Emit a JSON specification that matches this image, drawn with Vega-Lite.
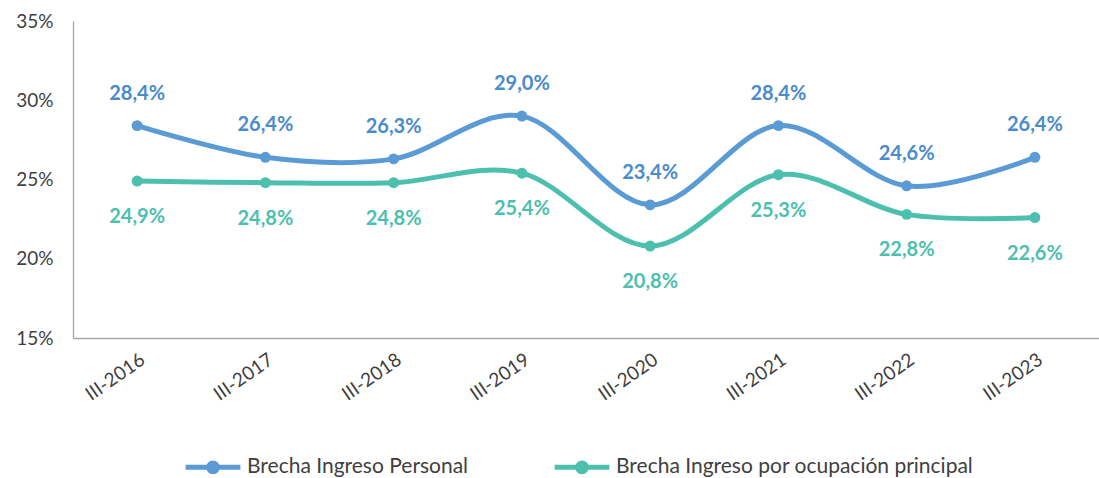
{
  "$schema": "https://vega.github.io/schema/vega-lite/v6.json",
  "width": 1026,
  "height": 317,
  "autosize": {"type": "none"},
  "padding": {"left": 73, "top": 21, "right": 0, "bottom": 140},
  "config": {
    "view": {"stroke": null},
    "font": "Lato",
    "locale": {"number": {"decimal": ",", "thousands": ".", "grouping": [3], "currency": ["", ""]}}
  },
  "data": {
    "values": [
      {"periodo": "III-2016", "serie": "Brecha Ingreso Personal", "valor": 0.284},
      {"periodo": "III-2017", "serie": "Brecha Ingreso Personal", "valor": 0.264},
      {"periodo": "III-2018", "serie": "Brecha Ingreso Personal", "valor": 0.263},
      {"periodo": "III-2019", "serie": "Brecha Ingreso Personal", "valor": 0.290},
      {"periodo": "III-2020", "serie": "Brecha Ingreso Personal", "valor": 0.234},
      {"periodo": "III-2021", "serie": "Brecha Ingreso Personal", "valor": 0.284},
      {"periodo": "III-2022", "serie": "Brecha Ingreso Personal", "valor": 0.246},
      {"periodo": "III-2023", "serie": "Brecha Ingreso Personal", "valor": 0.264},
      {"periodo": "III-2016", "serie": "Brecha Ingreso por ocupación principal", "valor": 0.249},
      {"periodo": "III-2017", "serie": "Brecha Ingreso por ocupación principal", "valor": 0.248},
      {"periodo": "III-2018", "serie": "Brecha Ingreso por ocupación principal", "valor": 0.248},
      {"periodo": "III-2019", "serie": "Brecha Ingreso por ocupación principal", "valor": 0.254},
      {"periodo": "III-2020", "serie": "Brecha Ingreso por ocupación principal", "valor": 0.208},
      {"periodo": "III-2021", "serie": "Brecha Ingreso por ocupación principal", "valor": 0.253},
      {"periodo": "III-2022", "serie": "Brecha Ingreso por ocupación principal", "valor": 0.228},
      {"periodo": "III-2023", "serie": "Brecha Ingreso por ocupación principal", "valor": 0.226}
    ]
  },
  "encoding": {
    "x": {
      "field": "periodo", "type": "ordinal",
      "scale": {"type": "point", "padding": 0.5},
      "axis": {
        "title": null, "labelAngle": -35, "labelFontSize": 19, "labelColor": "#404040",
        "domainColor": "#A6A6A6", "domainWidth": 1.3, "ticks": false, "labelPadding": 12,
        "labelFont": "Lato"
      }
    },
    "y": {
      "field": "valor", "type": "quantitative",
      "scale": {"domain": [0.15, 0.35], "nice": false},
      "axis": {
        "title": null, "format": ".0%", "values": [0.15, 0.2, 0.25, 0.3, 0.35],
        "grid": false, "ticks": false, "labelFontSize": 19, "labelColor": "#404040",
        "domainColor": "#A6A6A6", "domainWidth": 1.3, "labelPadding": 20, "labelFont": "Lato"
      }
    },
    "color": {
      "field": "serie", "type": "nominal",
      "scale": {
        "domain": ["Brecha Ingreso Personal", "Brecha Ingreso por ocupación principal"],
        "range": ["#5B9BD5", "#4DBFAE"]
      },
      "legend": {
        "title": null, "orient": "none", "direction": "horizontal",
        "legendX": 110, "legendY": 416,
        "labelFontSize": 21, "labelColor": "#404040", "labelFont": "Lato", "labelLimit": 0,
        "symbolType": "M-1,0L1,0M0.16,0A0.16,0.16 0 1,1 -0.16,0A0.16,0.16 0 1,1 0.16,0",
        "symbolSize": 3000, "symbolStrokeWidth": 5, "columnPadding": 75,
        "labelOffset": 4
      }
    }
  },
  "layer": [
    {
      "mark": {"type": "line", "interpolate": "cardinal", "strokeWidth": 5, "strokeCap": "round"}
    },
    {
      "mark": {"type": "point", "filled": true, "opacity": 1, "size": 120}
    },
    {
      "transform": [{"filter": "datum.serie === 'Brecha Ingreso Personal'"}],
      "mark": {"type": "text", "dy": -32, "fontSize": 20, "fontWeight": "bold"},
      "encoding": {
        "text": {"field": "valor", "type": "quantitative", "format": ".1%"},
        "color": {"value": "#4A8BCB"}
      }
    },
    {
      "transform": [{"filter": "datum.serie !== 'Brecha Ingreso Personal'"}],
      "mark": {"type": "text", "dy": 36, "fontSize": 20, "fontWeight": "bold"},
      "encoding": {
        "text": {"field": "valor", "type": "quantitative", "format": ".1%"},
        "color": {"value": "#4DBFAE"}
      }
    }
  ]
}
